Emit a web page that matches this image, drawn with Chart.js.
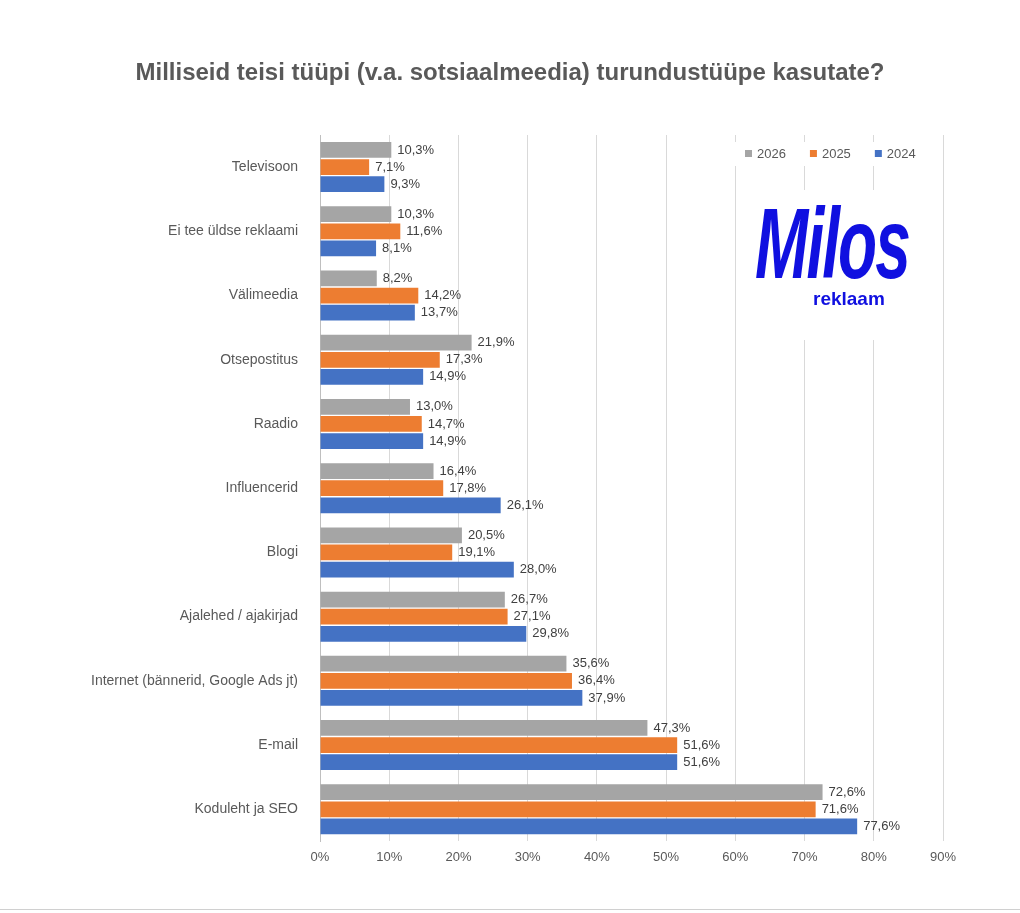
<!DOCTYPE html>
<html><head><meta charset="utf-8">
<script src="https://cdn.jsdelivr.net/npm/chart.js@4/dist/chart.umd.min.js"></script>
<style>
html,body{margin:0;padding:0;background:#fff;}
#wrap{position:relative;width:1020px;height:913px;}
#title{position:absolute;left:0;top:58px;width:1020px;text-align:center;font-family:"Liberation Sans",Arial,sans-serif;font-size:24px;font-weight:bold;color:#595959;}
#logo{position:absolute;left:745px;top:190px;width:180px;height:150px;background:#fff;font-family:"Liberation Sans",Arial,sans-serif;color:#1010e0;}
#logo .m{position:absolute;left:10px;top:-4px;font-size:100px;font-weight:bold;font-style:italic;letter-spacing:-3px;transform:scaleX(0.64);transform-origin:left top;}
#logo .r{position:absolute;left:68px;top:98px;font-size:19px;font-weight:bold;}
#line{position:absolute;left:0;top:909px;width:1020px;height:1px;background:#d0d0d0;}
</style></head>
<body><div id="wrap"><canvas id="c" width="1020" height="913"></canvas>
<div id="title">Milliseid teisi tüüpi (v.a. sotsiaalmeedia) turundustüüpe kasutate?</div>
<div id="logo"><span class="m">Milos</span><span class="r">reklaam</span></div><div id="line"></div></div>
<script>
const categories=["Televisoon","Ei tee üldse reklaami","Välimeedia","Otsepostitus","Raadio","Influencerid","Blogi","Ajalehed / ajakirjad","Internet (bännerid, Google Ads jt)","E-mail","Koduleht ja SEO"];
const v2026=[10.3,10.3,8.2,21.9,13.0,16.4,20.5,26.7,35.6,47.3,72.6];
const v2025=[7.1,11.6,14.2,17.3,14.7,17.8,19.1,27.1,36.4,51.6,71.6];
const v2024=[9.3,8.1,13.7,14.9,14.9,26.1,28.0,29.8,37.9,51.6,77.6];
const seriesNames=["2026","2025","2024"];
const colors=["#a5a5a5","#ed7d31","#4472c4"];
const txt="#595959";
const labelsPlugin={id:"lbl",afterDatasetsDraw(ch){const c=ch.ctx;c.save();c.font="13px 'Liberation Sans', Arial";c.fillStyle="#404040";c.textBaseline="middle";
ch.data.datasets.forEach((d,i)=>{ch.getDatasetMeta(i).data.forEach((b,j)=>{c.fillText(d.data[j].toFixed(1).replace(".",",")+"%",b.x+6,b.y);});});
const y=154;let x=745;c.fillStyle="#fff";c.fillRect(735,142,200,24);
seriesNames.forEach((n,i)=>{c.fillStyle=colors[i];c.fillRect(x,y-4,7,7);c.fillStyle=txt;c.fillText(n,x+12,y);x+=12+c.measureText(n).width+24;});
c.restore();}};
new Chart(document.getElementById("c"),{type:"bar",
data:{labels:categories,datasets:[
{label:"2026",data:v2026,backgroundColor:colors[0]},
{label:"2025",data:v2025,backgroundColor:colors[1]},
{label:"2024",data:v2024,backgroundColor:colors[2]}]},
plugins:[labelsPlugin],
options:{indexAxis:"y",responsive:false,animation:false,
layout:{padding:{left:0,right:77,top:135,bottom:40}},
datasets:{bar:{categoryPercentage:0.8,barPercentage:0.92}},
plugins:{legend:{display:false},tooltip:{enabled:false},title:{display:false}},
scales:{
x:{min:0,max:90,ticks:{stepSize:10,color:txt,font:{size:13,family:"'Liberation Sans', Arial"},callback:v=>v+"%",padding:8},grid:{color:"#d9d9d9",drawTicks:false},border:{display:false}},
y:{ticks:{color:txt,font:{size:14,family:"'Liberation Sans', Arial"},padding:14},grid:{display:false},border:{color:"#bfbfbf"},afterFit(s){s.width=320;}}
}}});
</script></body></html>
